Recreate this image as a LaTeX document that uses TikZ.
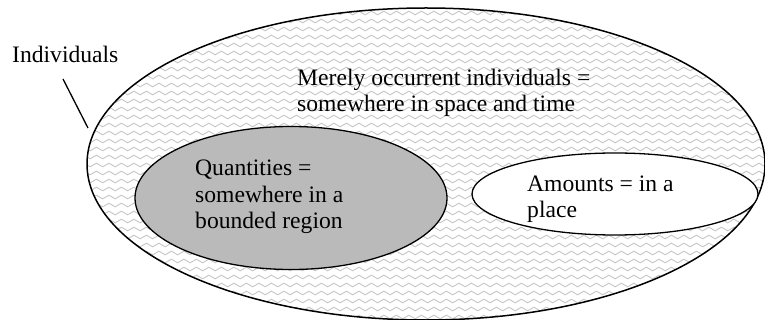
\documentclass[tikz,border=0pt]{standalone}
\usepackage{fontspec}
\setmainfont{Liberation Serif}
\usetikzlibrary{shapes.geometric,decorations.pathmorphing}
\begin{document}
\begin{tikzpicture}[x=1pt,y=-1pt,
  region/.style={ellipse,draw=black,inner sep=0pt,outer sep=0pt},
  wave/.style={draw=black!22,line width=0.9pt,decorate,decoration={snake,segment length=12.5pt,amplitude=1.8pt}},
  label/.style={inner sep=0pt,anchor=base west,align=left,font=\fontsize{23.6}{26.5}\selectfont}]
\useasboundingbox (0,0) rectangle (765,320);
\fill[white] (0,0) rectangle (765,320);
\begin{scope}
  \clip (426,164) ellipse [x radius=339, y radius=156];
  \foreach \yy in {13,21,...,325} \draw[wave] (80,\yy) -- (775,\yy);
\end{scope}
\node[region,line width=1.5pt,minimum width=678pt,minimum height=312pt] (occ) at (426,164) {};
\node[region,line width=1.3pt,fill=black!27,minimum width=312pt,minimum height=143pt] (qty) at (291,198) {};
\node[region,line width=1.3pt,fill=white,minimum width=286pt,minimum height=82pt] (amt) at (615,194) {};
\node[label] (indl) at (12,63) {Individuals};
\node[label] (occl) at (297,112) {Merely occurrent individuals =\\somewhere in space and time};
\node[label] (qtyl) at (195,229) {Quantities =\\somewhere in a\\bounded region};
\node[label] (amtl) at (527,218) {Amounts = in a\\place};
\coordinate (pstart) at (63,79);
\coordinate (pend) at (88,128);
\draw[line width=1.3pt] (pstart) -- (pend);
\end{tikzpicture}
\end{document}
